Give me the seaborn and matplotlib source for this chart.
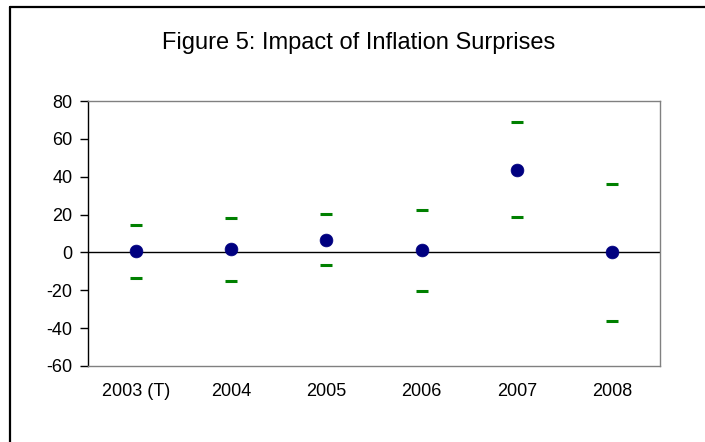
import matplotlib
matplotlib.use("Agg")
import matplotlib.pyplot as plt
import seaborn as sns
import pandas as pd
from matplotlib.lines import Line2D

years = ["2003 (T)", "2004", "2005", "2006", "2007", "2008"]
estimate = [0.7, 1.6, 6.7, 1.3, 43.7, 0.0]
upper = [14.7, 18.0, 20.4, 22.4, 68.9, 36.3]
lower = [-13.5, -14.9, -6.8, -20.2, 18.5, -36.2]
y_ticks = [-60, -40, -20, 0, 20, 40, 60, 80]
title = "Figure 5: Impact of Inflation Surprises"

sns.set_theme(style="white")
plt.rcParams["font.family"] = ["Liberation Sans", "DejaVu Sans"]

df_pt = pd.DataFrame({"year": years, "value": estimate})
df_bd = pd.DataFrame({"year": years + years, "value": upper + lower})

fig = plt.figure(figsize=(7.05, 4.42), dpi=100)
ax = fig.add_axes([88 / 705, 1 - 366 / 442, (660 - 88) / 705, (366 - 101) / 442])

ax.axhline(0, color="black", lw=1.0, zorder=1)
sns.scatterplot(data=df_bd, x="year", y="value", marker="_", s=85,
                color="#008000", linewidth=2.2, ax=ax, zorder=3)
sns.scatterplot(data=df_pt, x="year", y="value", marker="o", s=85,
                color="#000080", edgecolor="#000080", linewidth=0.5, ax=ax, zorder=4)

ax.set_xlim(-0.5, len(years) - 0.5)
ax.set_ylim(-60, 80)
ax.set_yticks(y_ticks)
ax.set_yticklabels([str(v) for v in y_ticks])
ax.set_xlabel("")
ax.set_ylabel("")
ax.tick_params(axis="y", length=6, width=1, color="black", pad=5, labelsize=13, left=True)
ax.tick_params(axis="x", length=0, pad=12, labelsize=13)
for lab in ax.get_xticklabels() + ax.get_yticklabels():
    lab.set_color("black")

for side in ["top", "right", "bottom"]:
    ax.spines[side].set_color("#808080")
    ax.spines[side].set_linewidth(1.0)
ax.spines["left"].set_color("black")
ax.spines["left"].set_linewidth(1.0)

fig.text(359 / 705, 1 - 43 / 442, title, ha="center", va="center", fontsize=17, color="black")

fig.add_artist(Line2D([10 / 705, 1.0], [1 - 7 / 442, 1 - 7 / 442], transform=fig.transFigure,
                      color="black", lw=1.6))
fig.add_artist(Line2D([10 / 705, 10 / 705], [0, 1 - 7 / 442], transform=fig.transFigure,
                      color="black", lw=1.6))

fig.savefig("out.png", dpi=100)
